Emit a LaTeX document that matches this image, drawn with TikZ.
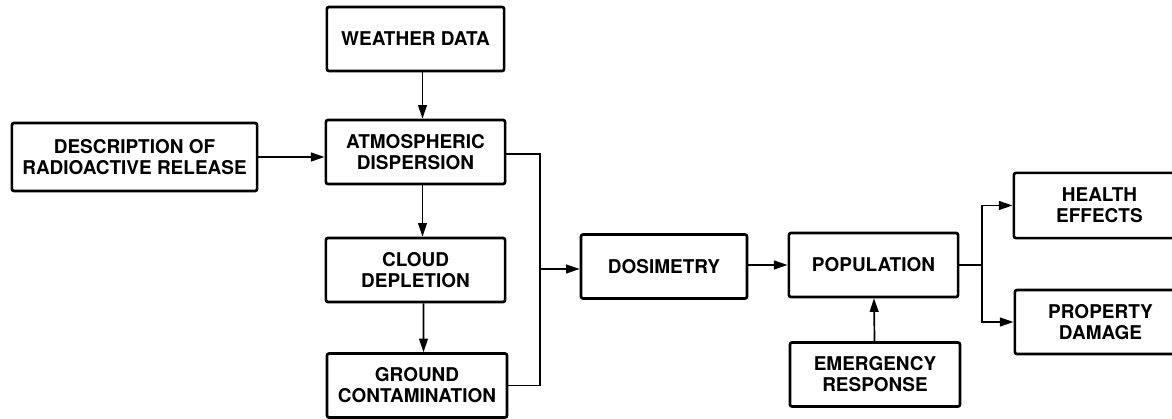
\documentclass[tikz,border=0pt]{standalone}
\usepackage{fontspec}
\setmainfont{TeX Gyre Heros}
\usetikzlibrary{calc, arrows.meta}

\begin{document}
\begin{tikzpicture}[x=.025cm, y=-.025cm]
    \tikzstyle{module} = [rectangle, draw, line width=1.9pt, rounded corners=1.5pt, minimum height=1.6cm, align=center, font=\bfseries\fontsize{13.5}{15}\selectfont]
    \tikzstyle{link} = [line width=1.2pt, -{Triangle[length=3.4mm, width=2.2mm]}]

    \useasboundingbox (0, 0) rectangle (1172, 419);

    % Release and transport ----------------------------
    \node (weather) at (415.5, 39) [module, minimum width=4.43cm] {WEATHER DATA};
    \node (release) at (134.5, 157) [module, minimum width=6.13cm, minimum height=1.7cm] {DESCRIPTION OF\\RADIOACTIVE RELEASE};
    \node (dispersion) at (415.5, 152) [module, minimum width=4.48cm] {ATMOSPHERIC\\DISPERSION};
    \node (depletion) at ($(dispersion) + (0, 118)$) [module, minimum width=4.48cm] {CLOUD\\DEPLETION};
    \node (contamination) at ($(depletion) + (1.5, 115.5)$) [module, minimum width=4.5cm] {GROUND\\CONTAMINATION};

    % Consequences -------------------------------------
    \node (dosimetry) at (664, 266.5) [module, minimum width=4.15cm] {DOSIMETRY};
    \node (population) at ($(dosimetry) + (209.5, -1.5)$) [module, minimum width=4.23cm] {POPULATION};
    \node (emergency) at ($(population) + (1.5, 109.5)$) [module, minimum width=4.25cm] {EMERGENCY\\RESPONSE};
    \node (health) at (1099.5, 205.5) [module, minimum width=4.28cm, minimum height=1.63cm] {HEALTH\\EFFECTS};
    \node (property) at ($(health) + (1, 116.5)$) [module, minimum width=4.28cm] {PROPERTY\\DAMAGE};
    % ---------------------------------------------------

    \coordinate (merge) at (540, 269);
    \coordinate (split) at (982, 265);

    % Connections
    \draw [link] ($(weather.south) + (7, 0)$) -- ($(dispersion.north) + (7, 0)$);
    \draw [link] (release.east) -- (release.east -| dispersion.west);
    \draw [link] ($(dispersion.south) + (7, 0)$) -- ($(depletion.north) + (7, 0)$);
    \draw [link] ($(depletion.south) + (8, 0)$) -- ($(contamination.north) + (6.5, 0)$);

    \draw [line width=1.2pt] ($(dispersion.east) + (0, 2)$) -| (merge) |- (contamination.east);
    \draw [link] (merge) -- (merge -| dosimetry.west);
    \draw [link] (dosimetry.east |- population.west) -- (population.west);
    \draw [link] (emergency) -- (population);

    \draw [line width=1.2pt] (population.east) -- (split);
    \draw [link] (split) |- (health.west);
    \draw [link] (split) |- (property.west);
\end{tikzpicture}
\end{document}
